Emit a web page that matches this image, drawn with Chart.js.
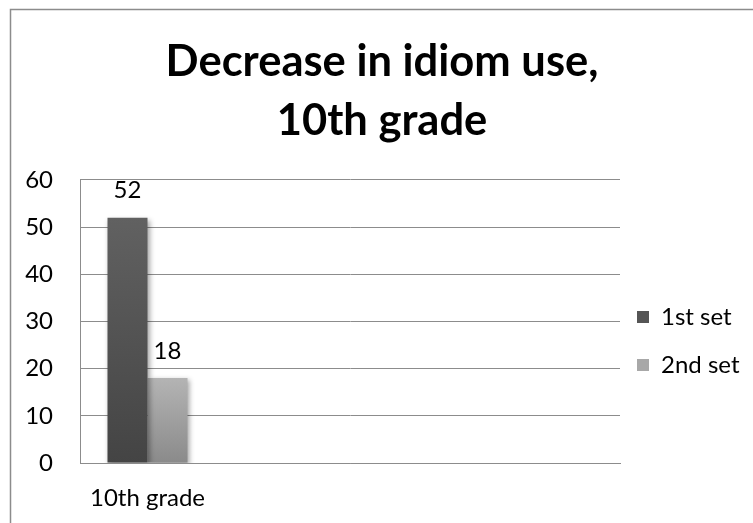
<!DOCTYPE html>
<html>
<head>
<meta charset="utf-8">
<script src="https://cdn.jsdelivr.net/npm/chart.js@4.4.0/dist/chart.umd.min.js"></script>
<style>
  html, body { margin: 0; padding: 0; background: #fff; }
  #wrap { width: 753px; height: 523px; }
</style>
</head>
<body>
<div id="wrap"><canvas id="c" width="753" height="523"></canvas></div>
<script>
// Chart content
const titleLines = ['Decrease in idiom use,', '10th grade'];
const categories = ['10th grade', '', '', ''];
const seriesNames = ['1st set', '2nd set'];
const firstSet = [52, null, null, null];
const secondSet = [18, null, null, null];
const yTicks = [0, 10, 20, 30, 40, 50, 60];

// Bar shading (top colour, bottom colour) per series
const seriesShades = [['#616161', '#444444'], ['#b4b4b4', '#8a8a8a']];
const legendSwatches = ['#555555', '#a8a8a8'];

const FONT = 'Lato';
const TEXT_SIZE = 24;

function shadeFor(idx) {
  return (c) => {
    const chart = c.chart;
    const shades = seriesShades[idx];
    const y = chart.scales && chart.scales.y;
    if (!chart.chartArea || !y || c.parsed == null || c.parsed.y == null) return shades[0];
    const top = y.getPixelForValue(c.parsed.y);
    const bottom = y.getPixelForValue(0);
    const g = chart.ctx.createLinearGradient(0, top, 0, bottom);
    g.addColorStop(0, shades[0]);
    g.addColorStop(1, shades[1]);
    return g;
  };
}

// White page with the outer frame lines
const framePlugin = {
  id: 'frame',
  beforeDraw(chart) {
    const ctx = chart.ctx;
    ctx.save();
    ctx.fillStyle = '#ffffff';
    ctx.fillRect(0, 0, chart.width, chart.height);
    ctx.strokeStyle = '#8c8c8c';
    ctx.lineWidth = 1.5;
    ctx.beginPath();
    ctx.moveTo(10.5, chart.height + 2);
    ctx.lineTo(10.5, 9.5);
    ctx.lineTo(chart.width + 2, 9.5);
    ctx.stroke();
    ctx.restore();
  }
};

// Legend column: fixed width, placed beside the middle of the plot
const legendPlacement = {
  id: 'legendPlacement',
  beforeLayout(chart) {
    const lg = chart.legend;
    if (lg && !lg._fixedFit) {
      const fit = lg.fit.bind(lg);
      lg.fit = function () { fit(); this.width = 133; };
      lg._fixedFit = true;
    }
  },
  afterLayout(chart) {
    const lg = chart.legend;
    if (!lg) return;
    const h = lg.height;
    lg.left = 613; lg.right = 613 + lg.width;
    lg.top = 281; lg.bottom = 281 + h;
  }
};

// Soft drop shadow under the bars
const barShadow = {
  id: 'barShadow',
  beforeDatasetsDraw(chart) {
    const ctx = chart.ctx;
    ctx.save();
    ctx.shadowColor = 'rgba(0,0,0,0.35)';
    ctx.shadowBlur = 5;
    ctx.shadowOffsetX = 2;
    ctx.shadowOffsetY = 2;
  },
  afterDatasetsDraw(chart) {
    chart.ctx.restore();
  }
};

// Value written above each bar
const valueLabels = {
  id: 'valueLabels',
  afterDatasetsDraw(chart) {
    const ctx = chart.ctx;
    ctx.save();
    ctx.font = TEXT_SIZE + 'px ' + FONT;
    ctx.fillStyle = '#000000';
    ctx.textAlign = 'center';
    ctx.textBaseline = 'middle';
    chart.data.datasets.forEach((ds, di) => {
      chart.getDatasetMeta(di).data.forEach((bar, i) => {
        const v = ds.data[i];
        if (v == null) return;
        ctx.fillText(String(v), bar.x, bar.y - 27);
      });
    });
    ctx.restore();
  }
};

new Chart(document.getElementById('c'), {
  type: 'bar',
  data: {
    labels: categories,
    datasets: [
      { label: seriesNames[0], data: firstSet, backgroundColor: shadeFor(0), borderWidth: 0 },
      { label: seriesNames[1], data: secondSet, backgroundColor: shadeFor(1), borderWidth: 0 }
    ]
  },
  options: {
    responsive: false,
    animation: false,
    devicePixelRatio: 1,
    layout: { padding: { left: 11, top: 0, right: 0, bottom: 0 } },
    datasets: { bar: { categoryPercentage: 0.5926, barPercentage: 1.0 } },
    scales: {
      x: {
        grid: { display: false, drawTicks: false },
        border: { display: true, color: '#8c8c8c', width: 1 },
        ticks: { color: '#000', font: { family: FONT, size: TEXT_SIZE }, padding: 21, maxRotation: 0, autoSkip: false },
        afterFit(scale) { scale.height = 60; }
      },
      y: {
        min: 0, max: 60,
        afterBuildTicks(scale) { scale.ticks = yTicks.map(v => ({ value: v })); },
        grid: { color: '#8c8c8c', lineWidth: 1, drawTicks: false },
        border: { display: true, color: '#8c8c8c', width: 1 },
        ticks: { color: '#000', font: { family: FONT, size: TEXT_SIZE }, padding: 27 },
        afterFit(scale) { scale.width = 69; }
      }
    },
    plugins: {
      title: {
        display: true,
        text: titleLines,
        color: '#000',
        font: { family: FONT, size: 43.5, weight: 'bold', lineHeight: 1.356 },
        padding: { top: 32, bottom: 30 }
      },
      legend: {
        position: 'right',
        align: 'start',
        fullSize: false,
        labels: {
          color: '#000',
          font: { family: FONT, size: TEXT_SIZE },
          boxWidth: 12,
          boxHeight: 12,
          padding: 24,
          generateLabels(chart) {
            return chart.data.datasets.map((ds, i) => ({
              text: ds.label,
              fillStyle: legendSwatches[i],
              strokeStyle: legendSwatches[i],
              lineWidth: 0,
              hidden: false,
              datasetIndex: i,
              fontColor: '#000'
            }));
          }
        }
      },
      tooltip: { enabled: false }
    }
  },
  plugins: [framePlugin, legendPlacement, barShadow, valueLabels]
});
</script>
</body>
</html>
